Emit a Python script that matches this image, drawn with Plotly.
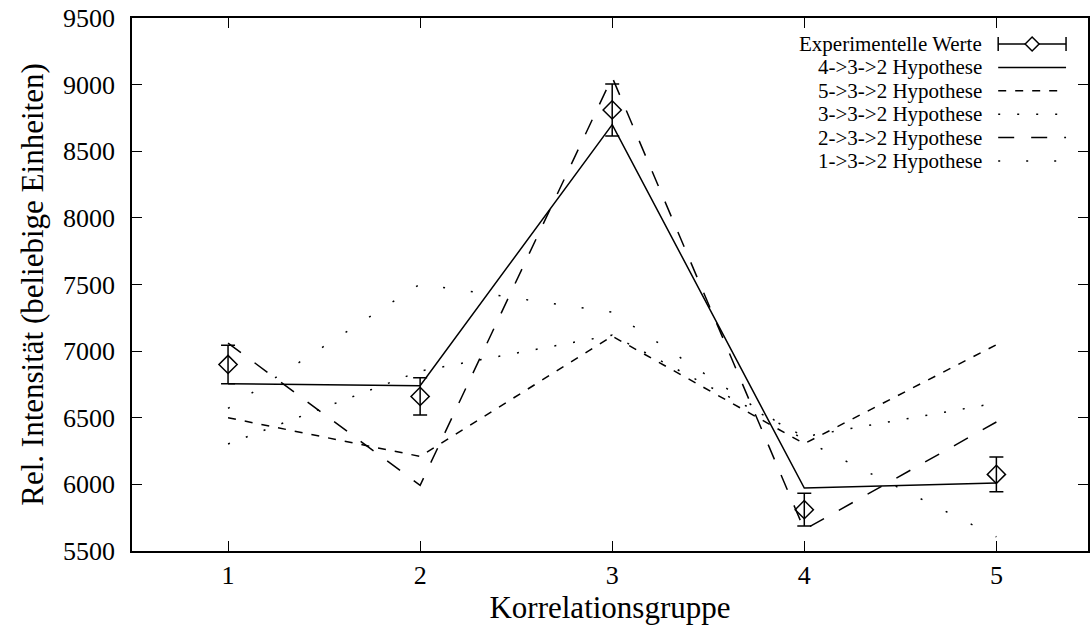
import plotly.graph_objects as go

# ---- data ----
gruppen = [1, 2, 3, 4, 5]
exp_werte = [6900, 6660, 8810, 5810, 6075]
exp_fehler = [145, 140, 195, 123, 130]
hyp_432 = [6755, 6740, 8700, 5972, 6010]
hyp_532 = [6500, 6210, 7112, 6305, 7048]
hyp_332 = [6303, 6850, 7120, 6358, 6610]
hyp_232 = [7060, 5993, 9055, 5660, 6468]
hyp_132 = [6570, 7503, 7292, 6332, 5606]

legend_labels = ["Experimentelle Werte", "4->3->2 Hypothese", "5->3->2 Hypothese",
                 "3->3->2 Hypothese", "2->3->2 Hypothese", "1->3->2 Hypothese"]
y_ticks = [5500, 6000, 6500, 7000, 7500, 8000, 8500, 9000, 9500]

FONT = "Liberation Serif, Times New Roman, serif"
W, H = 1090, 628
L, R, T, B = 132, 1090, 18, 551  # plot area in pixels

hyp_series = [hyp_432, hyp_532, hyp_332, hyp_232, hyp_132]
dashes = ["solid", "8px,9px", "2px,17px", "16px,17px", "2px,26px"]

fig = go.Figure()
for name, vals, d in zip(legend_labels[1:], hyp_series, dashes):
    fig.add_trace(go.Scatter(x=gruppen, y=vals, mode="lines", name=name,
                             line=dict(color="black", width=1.5, dash=d),
                             showlegend=False))

fig.add_trace(go.Scatter(x=gruppen, y=exp_werte, mode="markers", name=legend_labels[0],
                         marker=dict(symbol="diamond-open", size=14, color="black",
                                     line=dict(width=1.5, color="black")),
                         error_y=dict(type="data", array=exp_fehler, visible=True,
                                      color="black", thickness=1.5, width=7),
                         showlegend=False))

def px(xp):
    return (xp - L) / (R - L)

def py(yp):
    return (B - yp) / (B - T)

# ---- manual gnuplot-style legend (text left, sample right) ----
shapes = []
annotations = []
row_y = [44, 67.4, 90.8, 114.2, 137.6, 161]
sx0, sx1 = 1000, 1068
for i, (lab, yy) in enumerate(zip(legend_labels, row_y)):
    annotations.append(dict(x=px(985), y=py(yy), xref="paper", yref="paper",
                            text=lab, showarrow=False, xanchor="right", yanchor="middle",
                            borderpad=0,
                            font=dict(family=FONT, size=21, color="black")))
    if i == 0:
        shapes.append(dict(type="line", xref="paper", yref="paper",
                           x0=px(sx0), x1=px(sx1), y0=py(yy), y1=py(yy),
                           line=dict(color="black", width=1.5)))
        for cx in (sx0, sx1):
            shapes.append(dict(type="line", xref="paper", yref="paper",
                               x0=px(cx), x1=px(cx), y0=py(yy - 7), y1=py(yy + 7),
                               line=dict(color="black", width=1.5)))
        cx = (sx0 + sx1) / 2
        path = (f"M {px(cx - 7)} {py(yy)} L {px(cx)} {py(yy - 7)} "
                f"L {px(cx + 7)} {py(yy)} L {px(cx)} {py(yy + 7)} Z")
        shapes.append(dict(type="path", xref="paper", yref="paper", path=path,
                           fillcolor="white", line=dict(color="black", width=1.5)))
    else:
        shapes.append(dict(type="line", xref="paper", yref="paper",
                           x0=px(sx0), x1=px(sx1), y0=py(yy), y1=py(yy),
                           line=dict(color="black", width=1.5, dash=dashes[i - 1])))

axis_common = dict(showgrid=False, zeroline=False, showline=True, linecolor="black",
                   linewidth=1.5, mirror="ticks", ticks="inside", ticklen=10,
                   tickwidth=1.2, tickcolor="black",
                   tickfont=dict(family=FONT, size=26, color="black"))

fig.update_layout(
    width=W, height=H,
    margin=dict(l=L, r=W - R, t=T, b=H - B),
    paper_bgcolor="white", plot_bgcolor="white",
    font=dict(family=FONT, size=26, color="black"),
    showlegend=False,
    xaxis=dict(range=[0.5, 5.477], tickmode="array", tickvals=gruppen,
               ticktext=[str(g) for g in gruppen],
               title=dict(text="Korrelationsgruppe", standoff=1,
                          font=dict(family=FONT, size=31, color="black")),
               ticklabelstandoff=0, **axis_common),
    yaxis=dict(range=[5500, 9500], tickmode="array", tickvals=y_ticks,
               ticktext=[str(v) for v in y_ticks],
               title=dict(text="Rel. Intensität (beliebige Einheiten)", standoff=10,
                          font=dict(family=FONT, size=31, color="black")),
               ticklabelstandoff=10, **axis_common),
    shapes=shapes,
    annotations=annotations,
)

fig.write_html("out.html")
